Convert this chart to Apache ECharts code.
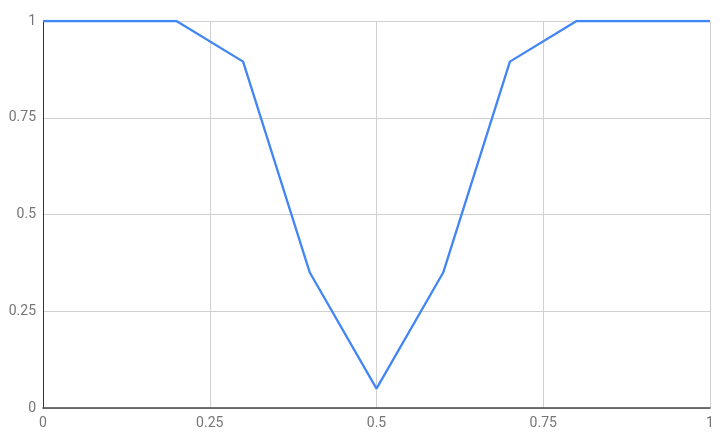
<!DOCTYPE html>
<html><head><meta charset="utf-8">
<script src="https://cdn.jsdelivr.net/npm/echarts@6/dist/echarts.min.js"></script>
<style>html,body{margin:0;padding:0;background:#fff}#c{width:727px;height:446px}</style>
</head><body><div id="c"></div>
<script>
const xValues = [0, 0.1, 0.2, 0.3, 0.4, 0.5, 0.6, 0.7, 0.8, 0.9, 1];
const yValues = [1, 1, 1, 0.895, 0.35, 0.05, 0.35, 0.895, 1, 1, 1];
const chart = echarts.init(document.getElementById('c'));
const labelStyle = {color: '#757575', fontFamily: 'Roboto', fontSize: 14};
chart.setOption({
  animation: false,
  grid: {left: 43, right: 17, top: 21, bottom: 38},
  xAxis: {
    type: 'value', min: 0, max: 1, interval: 0.25,
    axisLine: {show: true, onZero: false, lineStyle: {color: '#444', width: 1.5}},
    axisTick: {show: false},
    splitLine: {show: true, lineStyle: {color: '#d0d0d0', width: 1}},
    axisLabel: Object.assign({margin: 8, showMaxLabel: true}, labelStyle)
  },
  yAxis: {
    type: 'value', min: 0, max: 1, interval: 0.25,
    axisLine: {show: true, lineStyle: {color: '#333', width: 1}},
    axisTick: {show: false},
    splitLine: {show: true, lineStyle: {color: '#d0d0d0', width: 1}},
    axisLabel: Object.assign({margin: 7}, labelStyle)
  },
  series: [{
    type: 'line',
    data: xValues.map((x, i) => [x, yValues[i]]),
    showSymbol: false,
    lineStyle: {color: '#4285F4', width: 2.3},
    itemStyle: {color: '#4285F4'}
  }]
});
</script></body></html>
